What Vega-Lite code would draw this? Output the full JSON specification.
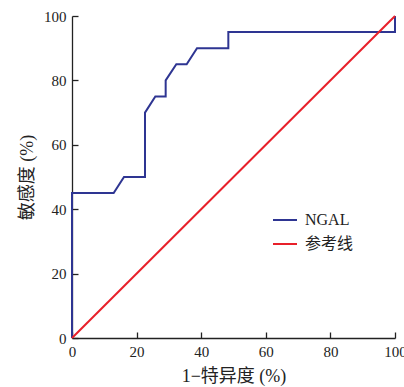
{
  "$schema": "https://vega.github.io/schema/vega-lite/v6.json",
  "width": 323,
  "height": 322,
  "autosize": {"type": "none"},
  "padding": {"left": 72, "top": 16, "right": 9, "bottom": 49},
  "background": "white",
  "config": {
    "view": {"stroke": null},
    "font": "Liberation Serif, Noto Sans CJK SC",
    "axis": {
      "grid": false,
      "domainColor": "#222",
      "domainWidth": 1.3,
      "tickColor": "#222",
      "tickWidth": 1.3,
      "tickSize": -6,
      "labelFlush": false,
      "labelFont": "Liberation Serif",
      "labelFontSize": 15,
      "labelColor": "#222",
      "titleFont": "Liberation Serif, Noto Sans CJK SC",
      "titleFontSize": 18,
      "titleFontWeight": "normal",
      "titleColor": "#222"
    }
  },
  "data": {
    "values": [
      {"series": "NGAL", "o": 1, "fpr": 0, "tpr": 0},
      {"series": "NGAL", "o": 2, "fpr": 0, "tpr": 45},
      {"series": "NGAL", "o": 3, "fpr": 12.9, "tpr": 45},
      {"series": "NGAL", "o": 4, "fpr": 16.1, "tpr": 50},
      {"series": "NGAL", "o": 5, "fpr": 22.6, "tpr": 50},
      {"series": "NGAL", "o": 6, "fpr": 22.6, "tpr": 70},
      {"series": "NGAL", "o": 7, "fpr": 25.8, "tpr": 75},
      {"series": "NGAL", "o": 8, "fpr": 29.0, "tpr": 75},
      {"series": "NGAL", "o": 9, "fpr": 29.0, "tpr": 80},
      {"series": "NGAL", "o": 10, "fpr": 32.3, "tpr": 85},
      {"series": "NGAL", "o": 11, "fpr": 35.5, "tpr": 85},
      {"series": "NGAL", "o": 12, "fpr": 38.7, "tpr": 90},
      {"series": "NGAL", "o": 13, "fpr": 48.4, "tpr": 90},
      {"series": "NGAL", "o": 14, "fpr": 48.4, "tpr": 95},
      {"series": "NGAL", "o": 15, "fpr": 100, "tpr": 95},
      {"series": "NGAL", "o": 16, "fpr": 100, "tpr": 100},
      {"series": "参考线", "o": 1, "fpr": 0, "tpr": 0},
      {"series": "参考线", "o": 2, "fpr": 100, "tpr": 100}
    ]
  },
  "mark": {"type": "line", "strokeWidth": 2, "clip": false},
  "encoding": {
    "x": {
      "field": "fpr", "type": "quantitative",
      "scale": {"domain": [0, 100], "nice": false},
      "axis": {"values": [0, 20, 40, 60, 80, 100], "title": "1−特异度 (%)", "labelPadding": 12, "titlePadding": 8}
    },
    "y": {
      "field": "tpr", "type": "quantitative",
      "scale": {"domain": [0, 100], "nice": false},
      "axis": {"values": [0, 20, 40, 60, 80, 100], "title": "敏感度 (%)", "labelPadding": 12, "titlePadding": 7}
    },
    "order": {"field": "o", "type": "quantitative"},
    "color": {
      "field": "series", "type": "nominal",
      "scale": {"domain": ["NGAL", "参考线"], "range": ["#2e3592", "#e8202a"]},
      "legend": {
        "title": null,
        "orient": "none",
        "legendX": 200,
        "legendY": 191,
        "symbolType": "stroke",
        "symbolSize": 576,
        "symbolStrokeWidth": 2,
        "labelFont": "Liberation Serif, Noto Sans CJK SC",
        "labelFontSize": 16,
        "labelColor": "#222",
        "labelOffset": 7,
        "rowPadding": 3
      }
    }
  }
}
